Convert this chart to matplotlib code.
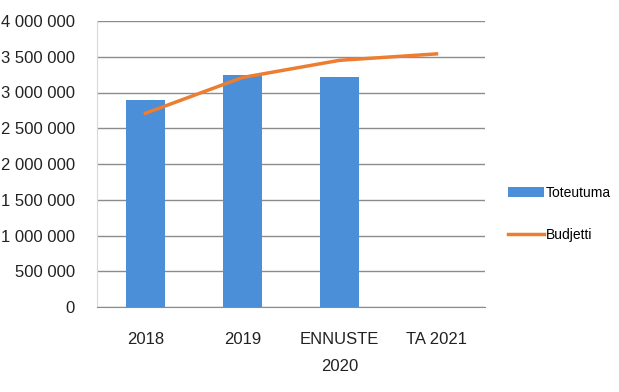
import matplotlib
matplotlib.use("Agg")
from matplotlib import pyplot as plt
from matplotlib.ticker import FuncFormatter

categories = ["2018", "2019", "ENNUSTE\n2020", "TA 2021"]
toteutuma = [2890000, 3245000, 3220000]
budjetti = [2710000, 3210000, 3450000, 3540000]
y_ticks = [0, 500000, 1000000, 1500000, 2000000, 2500000, 3000000, 3500000, 4000000]

plt.rcParams['font.family'] = ['Liberation Sans', 'DejaVu Sans']

fig = plt.figure(figsize=(6.19, 3.92), dpi=100)
ax = fig.add_axes([97 / 619, 1 - 307 / 392, 388 / 619, 286 / 392])

x = list(range(len(categories)))
bars = ax.bar(x[:len(toteutuma)], toteutuma, width=0.4, color='#4a8fd8', label='Toteutuma', zorder=2)
line, = ax.plot(x, budjetti, color='#ed7d31', linewidth=2.5, label='Budjetti', zorder=3)

ax.set_xlim(-0.5, 3.5)
ax.set_ylim(0, 4000000)
ax.set_yticks(y_ticks)
ax.yaxis.set_major_formatter(FuncFormatter(lambda v, p: f"{int(v):,}".replace(",", " ")))
ax.set_xticks(x)
ax.set_xticklabels(categories, linespacing=2.0)
ax.tick_params(axis='both', length=0, labelsize=12, colors='#222222')
ax.tick_params(axis='x', pad=18)
ax.tick_params(axis='y', pad=16)
ax.grid(axis='y', color='#8c8c8c', linewidth=1, zorder=0)
for s in ['top', 'right']:
    ax.spines[s].set_visible(False)
ax.spines['left'].set_color('#d9d9d9')
ax.spines['bottom'].set_color('#8c8c8c')

fig.legend([bars, line], ['Toteutuma', 'Budjetti'], loc='center left',
           bbox_to_anchor=(508 / 619, 1 - 214 / 392), frameon=False,
           borderpad=0, borderaxespad=0,
           fontsize=10, handlelength=2.6, handletextpad=0.1, labelspacing=2.0)

fig.savefig("out.png", dpi=100)
